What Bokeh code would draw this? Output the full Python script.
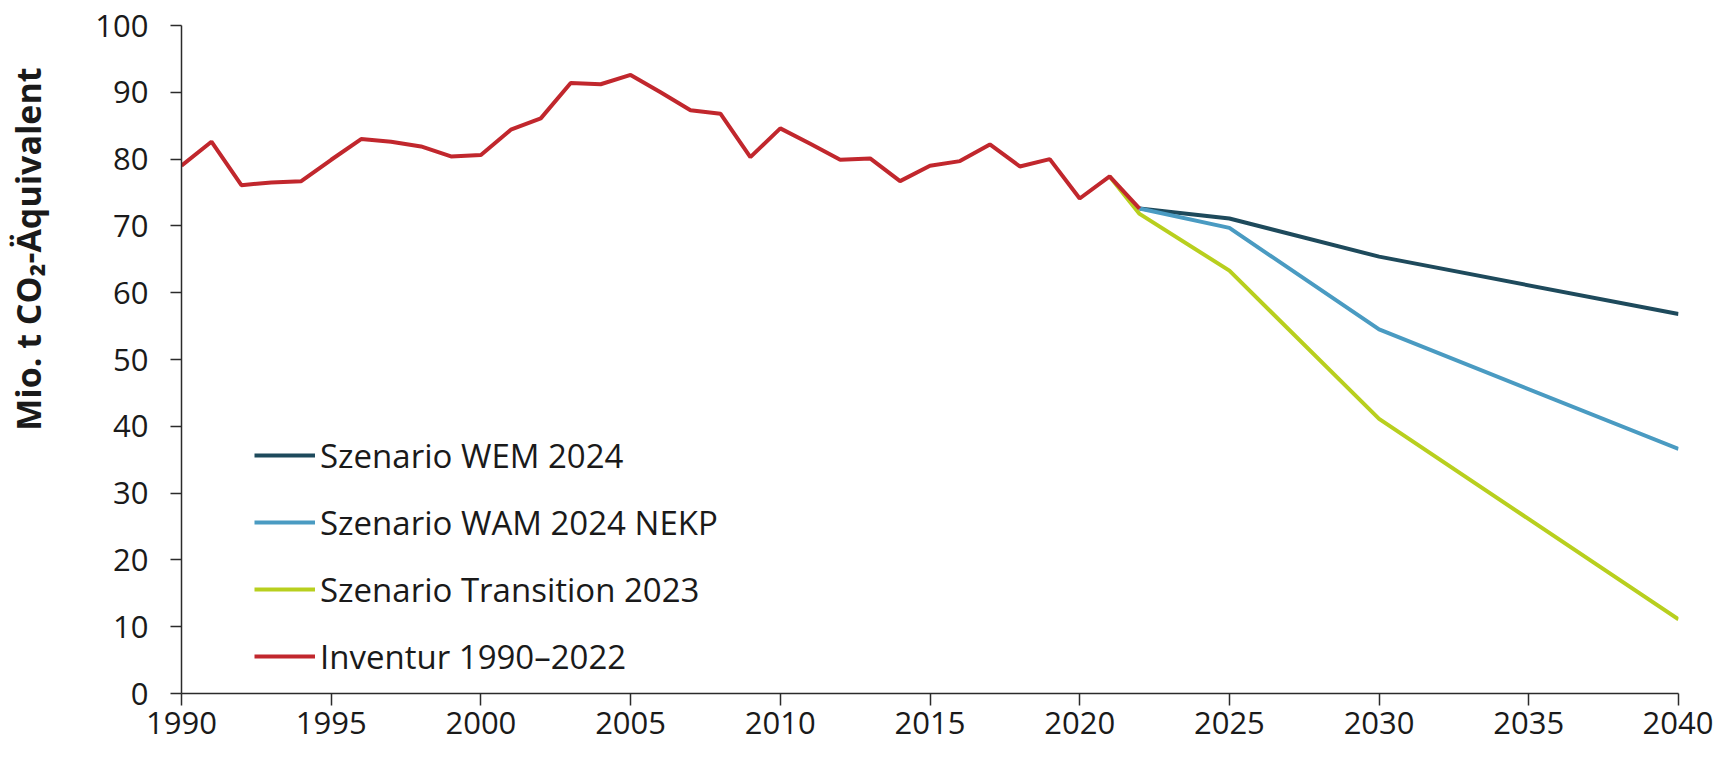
from bokeh.plotting import figure
from bokeh.models import Range1d, Legend, LegendItem, FixedTicker
from bokeh.embed import file_html
from bokeh.resources import INLINE

# ---- data ----
inv_years = list(range(1990, 2023))
inv_values = [79.0, 82.6, 76.1, 76.5, 76.7, 79.9, 83.0, 82.6, 81.9, 80.4,
              80.6, 84.4, 86.1, 91.4, 91.2, 92.6, 90.0, 87.3, 86.8, 80.3,
              84.6, 82.3, 79.9, 80.1, 76.7, 79.0, 79.7, 82.2, 78.9, 80.0,
              74.1, 77.4, 72.6]

proj_years = [2022, 2025, 2030, 2040]
wem_values = [72.6, 71.1, 65.4, 56.8]
wam_values = [72.6, 69.7, 54.5, 36.6]
trans_years = [2021, 2022, 2025, 2030, 2040]
trans_values = [77.4, 71.8, 63.3, 41.1, 11.1]

x_ticks = [1990, 1995, 2000, 2005, 2010, 2015, 2020, 2025, 2030, 2035, 2040]
y_ticks = [0, 10, 20, 30, 40, 50, 60, 70, 80, 90, 100]

labels = ["Szenario WEM 2024", "Szenario WAM 2024 NEKP",
          "Szenario Transition 2023", "Inventur 1990\u20132022"]
colors = ["#1e4a5c", "#4a9bc2", "#b8cf1e", "#c1272d"]
y_title = "Mio. t CO\u2082-\u00c4quivalent"

FONT = "Open Sans"
TXT = "#1a1a1a"
AX = "#2b2b2b"

p = figure(width=1713, height=744, output_backend="svg", toolbar_location=None,
           x_range=Range1d(1990, 2040), y_range=Range1d(0, 100),
           min_border_left=181, min_border_right=35, min_border_top=25,
           min_border_bottom=51)
p.outline_line_color = None
p.xgrid.visible = False
p.ygrid.visible = False
p.background_fill_color = "white"
p.border_fill_color = "white"

r_wem = p.line(proj_years, wem_values, line_color=colors[0], line_width=4)
r_wam = p.line(proj_years, wam_values, line_color=colors[1], line_width=4)
r_tr = p.line(trans_years, trans_values, line_color=colors[2], line_width=4)
r_inv = p.line(inv_years, inv_values, line_color=colors[3], line_width=4)

for ax in (p.xaxis[0], p.yaxis[0]):
    ax.axis_line_color = AX
    ax.axis_line_width = 1.5
    ax.major_tick_line_color = AX
    ax.major_tick_line_width = 1.5
    ax.major_tick_in = 0
    ax.minor_tick_line_color = None
    ax.major_label_text_font = FONT
    ax.major_label_text_font_size = "31px"
    ax.major_label_text_color = TXT

p.xaxis[0].ticker = FixedTicker(ticks=x_ticks)
p.yaxis[0].ticker = FixedTicker(ticks=y_ticks)
p.xaxis[0].major_tick_out = 12
p.yaxis[0].major_tick_out = 11
p.xaxis[0].major_label_standoff = 6
p.yaxis[0].major_label_standoff = 22

# y-axis title: leading no-break spaces move the visible text up along the axis
p.yaxis[0].axis_label = "\u00a0" * 25 + y_title
p.yaxis[0].axis_label_text_font = FONT
p.yaxis[0].axis_label_text_font_size = "34px"
p.yaxis[0].axis_label_text_font_style = "bold"
p.yaxis[0].axis_label_text_color = TXT
p.yaxis[0].axis_label_standoff = 41

legend = Legend(items=[LegendItem(label=labels[0], renderers=[r_wem]),
                       LegendItem(label=labels[1], renderers=[r_wam]),
                       LegendItem(label=labels[2], renderers=[r_tr]),
                       LegendItem(label=labels[3], renderers=[r_inv])],
                location=(73, 14), orientation="vertical")
legend.border_line_color = None
legend.background_fill_alpha = 0
legend.padding = 0
legend.margin = 0
legend.spacing = 21
legend.glyph_width = 61
legend.glyph_height = 46
legend.label_height = 46
legend.label_standoff = 5
legend.label_text_font = FONT
legend.label_text_font_size = "33px"
legend.label_text_color = TXT
p.add_layout(legend, "center")

open("out.html", "w").write(file_html(p, INLINE))
